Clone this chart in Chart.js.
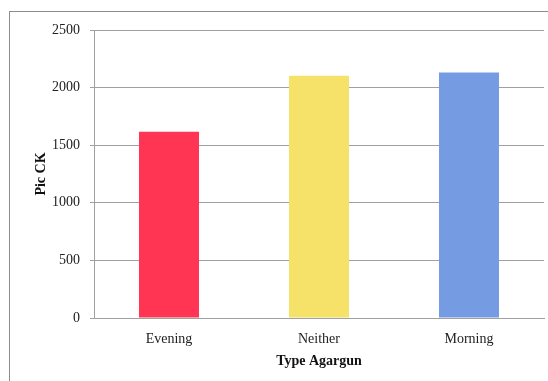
<!DOCTYPE html>
<html>
<head>
<meta charset="utf-8">
<script src="https://cdn.jsdelivr.net/npm/chart.js@4"></script>
<style>
  html, body { margin: 0; padding: 0; background: #fff; }
  #wrap { width: 548px; height: 381px; position: relative; overflow: hidden; }
</style>
</head>
<body>
<div id="wrap"><canvas id="myChart" width="548" height="381"></canvas></div>
<script>
// chart data
const categories = ['Evening', 'Neither', 'Morning'];
const picCK = [1617, 2102, 2131];
const barColors = ['#ff3553', '#f6e268', '#759ce2'];
const yTicks = [0, 500, 1000, 1500, 2000, 2500];

// outer frame like the exported office chart
const framePlugin = {
    id: 'frame',
    beforeDraw(chart) {
        const c = chart.ctx;
        c.save();
        c.fillStyle = '#fff';
        c.fillRect(0, 0, chart.width, chart.height);
        c.strokeStyle = '#8c8c8c';
        c.lineWidth = 1;
        c.strokeRect(9.5, 11.5, 700, 700);
        c.restore();
    }
};

const serif = "'Liberation Serif', 'DejaVu Serif', serif";

new Chart(document.getElementById('myChart'), {
    type: 'bar',
    data: {
        labels: categories,
        datasets: [{
            label: 'Pic CK',
            data: picCK,
            backgroundColor: barColors,
            borderWidth: 0,
            barPercentage: 0.4,
            categoryPercentage: 1
        }]
    },
    plugins: [framePlugin],
    options: {
        responsive: false,
        animation: false,
        layout: { padding: { top: 30, right: 4, left: 0, bottom: 0 } },
        plugins: {
            legend: { display: false },
            tooltip: { enabled: false }
        },
        scales: {
            x: {
                grid: { display: false },
                border: { display: true, color: '#a0a0a0', width: 1 },
                ticks: { color: '#222', font: { family: serif, size: 14 }, padding: 5 },
                title: {
                    display: true,
                    text: 'Type Agargun',
                    color: '#111',
                    font: { family: serif, size: 14, weight: 'bold' },
                    padding: { top: 0, bottom: 11 }
                },
                afterFit(scale) { scale.height = 63; }
            },
            y: {
                min: 0,
                max: 2500,
                afterBuildTicks(scale) { scale.ticks = yTicks.map(v => ({ value: v })); },
                grid: { color: '#a0a0a0', tickLength: 4, lineWidth: 1 },
                border: { display: true, color: '#a0a0a0', width: 1 },
                ticks: {
                    color: '#222',
                    font: { family: serif, size: 14 },
                    padding: 10,
                    callback: v => String(v)
                },
                title: {
                    display: true,
                    text: 'Pic CK',
                    color: '#111',
                    font: { family: serif, size: 14, weight: 'bold' },
                    padding: { top: 33 }
                },
                afterFit(scale) { scale.width = 94; }
            }
        }
    }
});
</script>
</body>
</html>
